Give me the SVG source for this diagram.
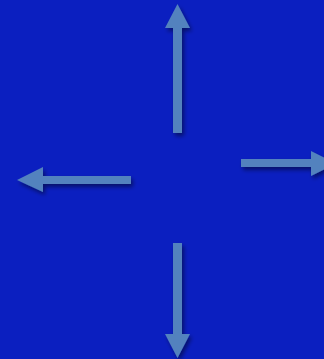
<svg xmlns="http://www.w3.org/2000/svg" width="324" height="359" viewBox="0 0 324 359">
<style>
.arrow{fill:#5382be;filter:url(#sh);}
</style>
<defs>
<filter id="sh" x="-50%" y="-50%" width="200%" height="200%">
<feGaussianBlur in="SourceAlpha" stdDeviation="2"/>
<feOffset dx="1.5" dy="2.5" result="b"/>
<feComponentTransfer><feFuncA type="linear" slope="0.45"/></feComponentTransfer>
<feMerge><feMergeNode/><feMergeNode in="SourceGraphic"/></feMerge>
</filter>
</defs>
<rect width="324" height="359" fill="#0b1fc0"/>
<g id="connectors">
<polygon id="up" class="arrow" points="173,133 182,133 182,28 190,28 177.5,4 165,28 173,28"/>
<polygon id="left" class="arrow" points="131,176 131,184 43,184 43,192 17,180 43,167 43,176"/>
<polygon id="right" class="arrow" points="241,159 241,167 311,167 311,176 336,163.5 311,151 311,159"/>
<polygon id="down" class="arrow" points="173,243 182,243 182,334 190,334 177.5,358 165,334 173,334"/>
</g>
</svg>
